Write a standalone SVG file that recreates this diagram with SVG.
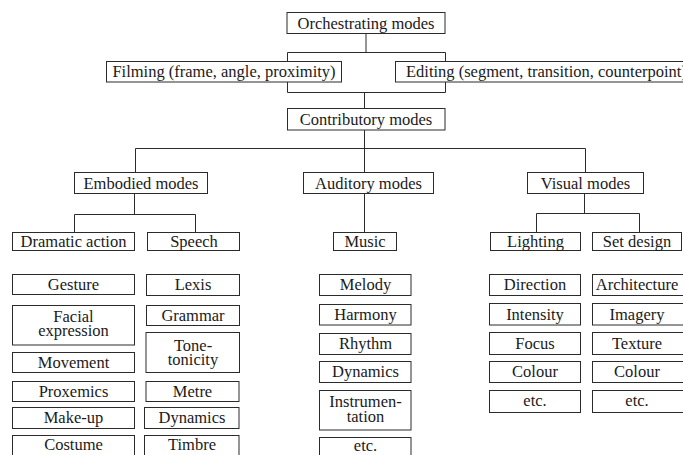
<svg xmlns="http://www.w3.org/2000/svg" width="683" height="455" viewBox="0 0 683 455">
<style>
.b{fill:#fff;stroke:#2b2b2b;stroke-width:1}
.c{fill:none;stroke:#2b2b2b;stroke-width:1}
text{font-family:'Liberation Serif','Tinos','Times New Roman','DejaVu Serif',serif;font-size:16.5px;fill:#1a1a1a;text-anchor:middle}
</style>
<rect width="683" height="455" fill="#fff"/>
<g id="connectors">
<path class="c" d="M366,33.5V52.5M287.5,61.5V52.5H445.5V61.5M287.5,82V92.5H445.5V82M364.5,92.5V108.5M364.5,130V232.5M135.5,172.5V148.5H585.5V172.5M134.5,193.5V214.5M74.5,232.5V214.5H195.5V232.5M584.5,193.5V213.5M536.5,232.5V213.5H639.5V232.5"/>
</g>
<g font-family="Liberation Serif, Times New Roman, serif">
<g id="orchestrating"><rect class="b" x="287" y="12.5" width="158" height="21"/><text x="366" y="28.5">Orchestrating modes</text></g>
<g id="filming"><rect class="b" x="106.5" y="61.5" width="235" height="20.5"/><text x="224" y="77">Filming (frame, angle, proximity)</text></g>
<g id="editing"><rect class="b" x="395.5" y="61.5" width="300" height="20.5"/><text x="406" y="77" style="text-anchor:start">Editing (segment, transition, counterpoint)</text></g>
<g id="contributory"><rect class="b" x="287.5" y="108.5" width="157.5" height="21.5"/><text x="366" y="124.5">Contributory modes</text></g>
<g id="embodied"><rect class="b" x="74.5" y="172.5" width="133" height="21"/><text x="141" y="188.5">Embodied modes</text></g>
<g id="auditory"><rect class="b" x="303.5" y="172.5" width="130" height="21"/><text x="368.5" y="188.5">Auditory modes</text></g>
<g id="visual"><rect class="b" x="527.5" y="172.5" width="116" height="21"/><text x="585.5" y="188.5">Visual modes</text></g>
<g id="dramatic"><rect class="b" x="12.5" y="232.5" width="122" height="18"/><text x="73.5" y="246.5">Dramatic action</text></g>
<g id="speech"><rect class="b" x="147.5" y="232.5" width="92" height="18"/><text x="194" y="246.5">Speech</text></g>
<g id="music"><rect class="b" x="333.5" y="232.5" width="63" height="18"/><text x="365" y="246.5">Music</text></g>
<g id="lighting"><rect class="b" x="490.5" y="232.5" width="90" height="18"/><text x="535.5" y="246.5">Lighting</text></g>
<g id="setdesign"><rect class="b" x="592.5" y="232.5" width="89" height="18"/><text x="637" y="246.5">Set design</text></g>
<g id="gesture"><rect class="b" x="12.5" y="274.5" width="122" height="20"/><text x="73.5" y="289.5">Gesture</text></g>
<g id="facial"><rect class="b" x="12.5" y="305.5" width="122" height="39.5"/><text x="73.5" y="321.5">Facial</text><text x="73.5" y="336">expression</text></g>
<g id="movement"><rect class="b" x="12.5" y="352.5" width="122" height="20"/><text x="73.5" y="367.5">Movement</text></g>
<g id="proxemics"><rect class="b" x="12.5" y="381.5" width="122" height="20"/><text x="73.5" y="396.5">Proxemics</text></g>
<g id="makeup"><rect class="b" x="12.5" y="407.5" width="122" height="21"/><text x="73.5" y="423">Make-up</text></g>
<g id="costume"><rect class="b" x="12.5" y="435.5" width="122" height="25"/><text x="73.5" y="450">Costume</text></g>
<g id="lexis"><rect class="b" x="146.5" y="274.5" width="93" height="21"/><text x="193" y="290">Lexis</text></g>
<g id="grammar"><rect class="b" x="146.5" y="305.5" width="93" height="20"/><text x="193" y="320.5">Grammar</text></g>
<g id="tonetonicity"><rect class="b" x="146" y="332.5" width="93.5" height="40"/><text x="193" y="350.5">Tone-</text><text x="193" y="364.5">tonicity</text></g>
<g id="metre"><rect class="b" x="146" y="381.5" width="93" height="20"/><text x="192.5" y="396.5">Metre</text></g>
<g id="dynamics1"><rect class="b" x="144.5" y="407.5" width="94.5" height="21"/><text x="192" y="423">Dynamics</text></g>
<g id="timbre"><rect class="b" x="144.5" y="435.5" width="94.5" height="25"/><text x="192" y="450">Timbre</text></g>
<g id="melody"><rect class="b" x="319.5" y="274.5" width="91.5" height="21"/><text x="365.5" y="290">Melody</text></g>
<g id="harmony"><rect class="b" x="319.5" y="304.5" width="91.5" height="20.5"/><text x="365.5" y="319.5">Harmony</text></g>
<g id="rhythm"><rect class="b" x="319.5" y="333.5" width="91.5" height="21"/><text x="365.5" y="349">Rhythm</text></g>
<g id="dynamics2"><rect class="b" x="319.5" y="361.5" width="91.5" height="21"/><text x="365.5" y="377">Dynamics</text></g>
<g id="instrumentation"><rect class="b" x="319.5" y="390.5" width="91.5" height="39.5"/><text x="365.5" y="406.5">Instrumen-</text><text x="365.5" y="421.5">tation</text></g>
<g id="etc1"><rect class="b" x="319.5" y="437.5" width="91.5" height="25"/><text x="365.5" y="451">etc.</text></g>
<g id="direction"><rect class="b" x="489.5" y="274.5" width="91" height="21"/><text x="535" y="290">Direction</text></g>
<g id="intensity"><rect class="b" x="489.5" y="303.5" width="91" height="21.5"/><text x="535" y="319.5">Intensity</text></g>
<g id="focus"><rect class="b" x="489.5" y="332.5" width="91" height="22"/><text x="535" y="348.5">Focus</text></g>
<g id="colour1"><rect class="b" x="489.5" y="361.5" width="91" height="21"/><text x="535" y="377">Colour</text></g>
<g id="etc2"><rect class="b" x="489.5" y="390.5" width="91" height="22"/><text x="535" y="406">etc.</text></g>
<g id="architecture"><rect class="b" x="592.5" y="274.5" width="92" height="21"/><text x="637" y="290">Architecture</text></g>
<g id="imagery"><rect class="b" x="592.5" y="303.5" width="92" height="21.5"/><text x="637" y="319.5">Imagery</text></g>
<g id="texture"><rect class="b" x="592.5" y="332.5" width="92" height="22"/><text x="637" y="348.5">Texture</text></g>
<g id="colour2"><rect class="b" x="592.5" y="361.5" width="92" height="21"/><text x="637" y="377">Colour</text></g>
<g id="etc3"><rect class="b" x="592.5" y="390.5" width="92" height="22"/><text x="637" y="406">etc.</text></g>
</g>
</svg>
